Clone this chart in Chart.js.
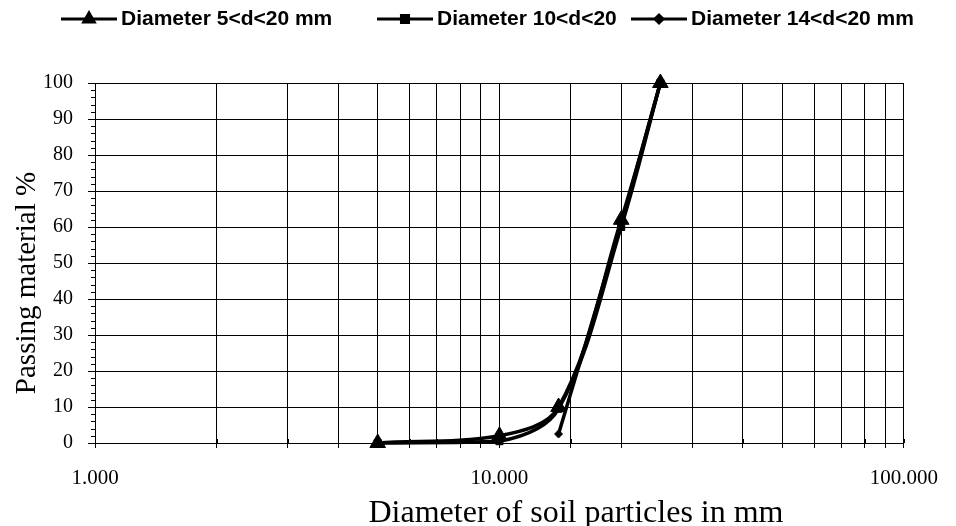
<!DOCTYPE html>
<html>
<head>
<meta charset="utf-8">
<title>Grain size distribution</title>
<script src="https://cdn.jsdelivr.net/npm/chart.js"></script>
<style>
  html, body { margin: 0; padding: 0; background: #fff; }
  #wrap { width: 956px; height: 526px; }
</style>
</head>
<body>
<div id="wrap"><canvas id="grading" width="956" height="526"></canvas></div>
<script>
// sieve sizes (mm) and passing percentages for each sample
const seriesNames = ['Diameter 5<d<20 mm', 'Diameter 10<d<20', 'Diameter 14<d<20 mm'];
const sizes5 = [5, 10, 14, 20, 25];
const passing5 = [0, 2, 10, 62, 100];
const sizes10 = [5, 10, 14, 20, 25];
const passing10 = [0, 0.5, 9.5, 60, 100];
const sizes14 = [14, 20, 25];
const passing14 = [2.5, 61, 100];
const markers = ['triangle', 'rect', 'rectRot'];
const markerSizes = [9, 5, 4];
const legendX = [61, 377, 631];
const xTitle = 'Diameter of soil particles in mm';
const yTitle = 'Passing material %';

const serif = "'Liberation Serif', 'Times New Roman', serif";
const sans = "'Liberation Sans', Arial, sans-serif";

function toPoints(xs, ys) {
    return xs.map(function (x, i) { return { x: x, y: ys[i] }; });
}

function makeSet(i, xs, ys) {
    return {
        label: seriesNames[i],
        data: toPoints(xs, ys),
        showLine: true,
        borderColor: '#000',
        backgroundColor: '#000',
        borderWidth: 3.5,
        tension: 0.35,
        pointStyle: markers[i],
        pointRadius: markerSizes[i],
        pointBackgroundColor: '#000',
        pointBorderColor: '#000',
        pointBorderWidth: 1,
        clip: false
    };
}

// legend row: short line with the marker in the middle, then bold label
const lineLegend = {
    id: 'lineLegend',
    afterDraw(chart) {
        const ctx = chart.ctx;
        ctx.save();
        chart.data.datasets.forEach(function (ds, i) {
            const x0 = legendX[i], y = 19;
            ctx.strokeStyle = '#000';
            ctx.lineWidth = 3;
            ctx.beginPath();
            ctx.moveTo(x0, y);
            ctx.lineTo(x0 + 56, y);
            ctx.stroke();
            ctx.fillStyle = '#000';
            Chart.helpers.drawPoint(ctx, {
                pointStyle: ds.pointStyle,
                radius: Math.min(ds.pointRadius, 6),
                rotation: 0,
                borderWidth: 1
            }, x0 + 28, y);
            ctx.font = 'bold 21px ' + sans;
            ctx.textBaseline = 'middle';
            ctx.textAlign = 'left';
            ctx.fillText(ds.label, x0 + 60, y);
        });
        ctx.restore();
    }
};

// short minor ticks on the y axis, and x ticks poking above the axis line
const minorTicks = {
    id: 'minorTicks',
    afterDatasetsDraw(chart) {
        const ctx = chart.ctx;
        const xs = chart.scales.x, ys = chart.scales.y;
        ctx.save();
        ctx.strokeStyle = '#000';
        ctx.lineWidth = 1;
        ctx.beginPath();
        ys.ticks.forEach(function (t) {
            if (t.value % 10 === 0) return;
            const py = Math.round(ys.getPixelForValue(t.value)) + 0.5;
            ctx.moveTo(ys.right - 4, py);
            ctx.lineTo(ys.right, py);
        });
        xs.ticks.forEach(function (t) {
            const px = Math.round(xs.getPixelForValue(t.value)) + 0.5;
            ctx.moveTo(px, xs.top);
            ctx.lineTo(px, xs.top - 4);
        });
        ctx.stroke();
        ctx.restore();
    }
};

// axis titles
const axisTitles = {
    id: 'axisTitles',
    afterDraw(chart) {
        const ctx = chart.ctx;
        ctx.save();
        ctx.fillStyle = '#000';
        ctx.textAlign = 'center';
        ctx.textBaseline = 'alphabetic';
        ctx.font = '32px ' + serif;
        ctx.fillText(xTitle, 576, 522);
        ctx.font = '29px ' + serif;
        ctx.textBaseline = 'middle';
        ctx.translate(27, 283);
        ctx.rotate(-Math.PI / 2);
        ctx.fillText(yTitle, 0, 0);
        ctx.restore();
    }
};

new Chart(document.getElementById('grading'), {
    type: 'scatter',
    data: {
        datasets: [
            makeSet(0, sizes5, passing5),
            makeSet(1, sizes10, passing10),
            makeSet(2, sizes14, passing14)
        ]
    },
    options: {
        responsive: false,
        animation: false,
        devicePixelRatio: 1,
        layout: { padding: { top: 83, right: 42, bottom: 0, left: 0 } },
        plugins: {
            legend: { display: false },
            tooltip: { enabled: false }
        },
        scales: {
            x: {
                type: 'logarithmic',
                min: 1,
                max: 100,
                afterFit: function (scale) { scale.height = 83; },
                border: { color: '#000', width: 1 },
                grid: { color: '#000', lineWidth: 1, tickColor: '#000', tickLength: 5 },
                ticks: {
                    autoSkip: false,
                    maxRotation: 0,
                    padding: 18,
                    color: '#000',
                    font: { family: serif, size: 21 },
                    callback: function (v) {
                        const l = Math.log10(v);
                        return Math.abs(l - Math.round(l)) < 1e-9 ? Number(v).toFixed(3) : '';
                    }
                }
            },
            y: {
                min: 0,
                max: 100,
                afterFit: function (scale) { scale.width = 95; },
                border: { color: '#000', width: 1 },
                grid: {
                    color: function (c) {
                        return c.tick && c.tick.value % 10 === 0 ? '#000' : 'rgba(0,0,0,0)';
                    },
                    tickColor: function (c) {
                        return c.tick && c.tick.value % 10 === 0 ? '#000' : 'rgba(0,0,0,0)';
                    },
                    tickLength: 7,
                    lineWidth: 1
                },
                ticks: {
                    stepSize: 2,
                    autoSkip: false,
                    padding: 15,
                    color: '#000',
                    font: { family: serif, size: 20 },
                    callback: function (v) { return v % 10 === 0 ? v : ''; }
                }
            }
        }
    },
    plugins: [lineLegend, minorTicks, axisTitles]
});
</script>
</body>
</html>
